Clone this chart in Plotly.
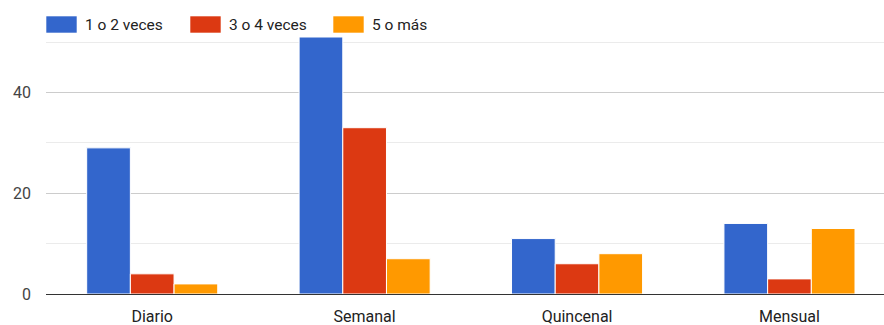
import plotly.graph_objects as go

# Frecuencia de respuestas por periodo
categorias = ["Diario", "Semanal", "Quincenal", "Mensual"]
series = ["1 o 2 veces", "3 o 4 veces", "5 o más"]
valores_1_2 = [29, 51, 11, 14]
valores_3_4 = [4, 33, 6, 3]
valores_5_mas = [2, 7, 8, 13]
colores = ["#3366CC", "#DC3912", "#FF9900"]

W, H = 884, 325
M_L, M_R, M_T, M_B = 46, 0, 37, 31
plot_w = W - M_L - M_R
plot_h = H - M_T - M_B

fig = go.Figure()
for nombre, vals, col in zip(series, [valores_1_2, valores_3_4, valores_5_mas], colores):
    fig.add_trace(go.Bar(
        x=categorias, y=vals, name=nombre,
        marker=dict(color=col, line=dict(color="white", width=1)),
        showlegend=False,
    ))

# Leyenda dibujada a mano: recuadros anchos a la izquierda del texto
leg_x = [46, 190, 333]
box_w, box_top, box_bot = 31, 16, 33
def px_x(p):
    return (p - M_L) / plot_w
def px_y(p):
    return (H - M_B - p) / plot_h

shapes = []
annotations = []
for x0, nombre, col in zip(leg_x, series, colores):
    shapes.append(dict(
        type="rect", xref="paper", yref="paper",
        x0=px_x(x0), x1=px_x(x0 + box_w), y0=px_y(box_bot), y1=px_y(box_top),
        fillcolor=col, line=dict(color="rgba(255,255,255,0.6)", width=1), layer="above",
    ))
    annotations.append(dict(
        xref="paper", yref="paper", x=px_x(x0 + box_w + 6), y=px_y((box_top + box_bot) / 2 + 1),
        text=nombre, showarrow=False, xanchor="left", yanchor="middle",
        font=dict(family="Roboto", size=15.5, color="#222222"),
    ))

fig.update_layout(
    width=W, height=H,
    margin=dict(l=M_L, r=M_R, t=M_T, b=M_B, pad=0),
    paper_bgcolor="white", plot_bgcolor="white",
    barmode="group", bargap=0.383, bargroupgap=0,
    shapes=shapes, annotations=annotations,
    font=dict(family="Roboto", size=16, color="#444444"),
    xaxis=dict(
        range=[-0.5, 3.445], showgrid=False, showline=False, ticks="",
        tickfont=dict(family="Roboto", size=16, color="#222222"),
        ticklabelstandoff=11,
    ),
    yaxis=dict(
        range=[0, 51], dtick=20, tick0=0, showgrid=True, gridcolor="#cccccc",
        gridwidth=1, zeroline=True, zerolinecolor="#333333", zerolinewidth=1,
        showline=False, ticks="", ticklabelstandoff=14,
        tickfont=dict(family="Roboto", size=16, color="#444444"),
        minor=dict(dtick=10, showgrid=True, gridcolor="#ebebeb", gridwidth=1),
    ),
)

fig.write_html("out.html")
